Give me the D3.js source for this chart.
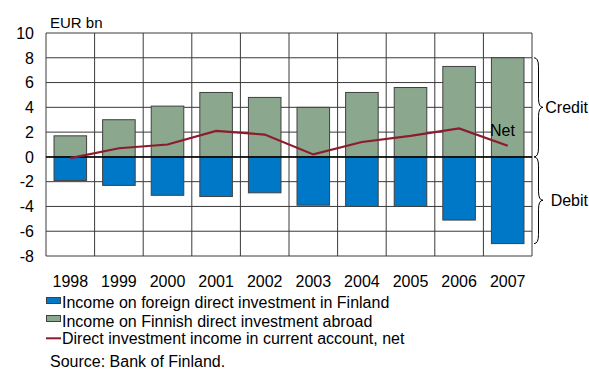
<!DOCTYPE html>
<html>
<head>
<meta charset="utf-8">
<script src="https://cdn.jsdelivr.net/npm/d3@7"></script>
<style>
  html, body { margin: 0; padding: 0; background: #fff; }
  svg { display: block; font-family: "Liberation Sans", Arial, sans-serif; }
</style>
</head>
<body>
<svg id="chart" width="589" height="369"></svg>
<script>
// Direct investment income, EUR bn
const years = ["1998", "1999", "2000", "2001", "2002", "2003", "2004", "2005", "2006", "2007"];
const credit = [1.7, 3.0, 4.1, 5.2, 4.8, 4.0, 5.2, 5.6, 7.3, 8.0];       // Finnish direct investment abroad
const debit = [-1.9, -2.3, -3.1, -3.2, -2.9, -3.9, -4.0, -4.0, -5.1, -7.0]; // foreign direct investment in Finland
const net = [-0.1, 0.7, 1.0, 2.1, 1.8, 0.2, 1.2, 1.7, 2.3, 0.9];
const yTicks = [-8, -6, -4, -2, 0, 2, 4, 6, 8, 10];
const legendLabels = [
  "Income on foreign direct investment in Finland",
  "Income on Finnish direct investment abroad",
  "Direct investment income in current account, net"
];

const colors = { credit: "#8ba78d", debit: "#0078c8", net: "#8b1c2e", grid: "#3a3a3a" };
const svg = d3.select("#chart");
const plot = { left: 46, right: 532, top: 33, bottom: 256 };

const x = d3.scaleBand().domain(years).range([plot.left, plot.right]).paddingInner(0.33).paddingOuter(0.165);
const y = d3.scaleLinear().domain([-8, 10]).range([plot.bottom, plot.top]);
const step = x.step();
const xc = d => x(d) + x.bandwidth() / 2;

// grid
const g = svg.append("g");
g.selectAll("line.h").data(yTicks).join("line")
  .attr("x1", plot.left).attr("x2", plot.right)
  .attr("y1", d => y(d)).attr("y2", d => y(d))
  .attr("stroke", colors.grid).attr("stroke-width", 1);
g.selectAll("line.v").data(d3.range(years.length + 1)).join("line")
  .attr("x1", i => plot.left + i * step).attr("x2", i => plot.left + i * step)
  .attr("y1", plot.top).attr("y2", plot.bottom)
  .attr("stroke", colors.grid).attr("stroke-width", 1);

// bars
svg.append("g").selectAll("rect").data(years).join("rect")
  .attr("x", d => x(d)).attr("width", x.bandwidth())
  .attr("y", (d, i) => y(credit[i])).attr("height", (d, i) => y(0) - y(credit[i]))
  .attr("fill", colors.credit).attr("stroke", "#404040").attr("stroke-width", 1);
svg.append("g").selectAll("rect").data(years).join("rect")
  .attr("x", d => x(d)).attr("width", x.bandwidth())
  .attr("y", y(0)).attr("height", (d, i) => y(debit[i]) - y(0))
  .attr("fill", colors.debit).attr("stroke", "#404040").attr("stroke-width", 1);

// zero line
svg.append("line").attr("x1", plot.left).attr("x2", plot.right)
  .attr("y1", y(0)).attr("y2", y(0)).attr("stroke", "#000").attr("stroke-width", 1.5);

// net line
const line = d3.line().x((d, i) => xc(years[i])).y(d => y(d));
svg.append("path").datum(net).attr("d", line)
  .attr("fill", "none").attr("stroke", colors.net).attr("stroke-width", 2.2);

svg.append("text").attr("x", 490).attr("y", 136).attr("font-size", 16).attr("fill", "#000").text("Net");

// axes labels
svg.append("g").selectAll("text").data(yTicks).join("text")
  .attr("x", 34).attr("y", d => y(d)).attr("dy", "0.36em")
  .attr("text-anchor", "end").attr("font-size", 16).text(d => d);
svg.append("g").selectAll("text").data(years).join("text")
  .attr("x", d => xc(d)).attr("y", 287)
  .attr("text-anchor", "middle").attr("font-size", 16).text(d => d);
svg.append("text").attr("x", 50).attr("y", 28).attr("font-size", 15).text("EUR bn");

// braces
function brace(bx, y0, y1, w) {
  const ym = (y0 + y1) / 2, h = w / 2;
  return `M${bx},${y0} Q${bx + h},${y0} ${bx + h},${y0 + w} L${bx + h},${ym - w} Q${bx + h},${ym} ${bx + w},${ym}` +
         ` Q${bx + h},${ym} ${bx + h},${ym + w} L${bx + h},${y1 - w} Q${bx + h},${y1} ${bx},${y1}`;
}
const last = years.length - 1;
const braces = [
  { y0: y(credit[last]), y1: y(0), label: "Credit" },
  { y0: y(0), y1: y(debit[last]), label: "Debit" }
];
braces.forEach(b => {
  svg.append("path").attr("d", brace(534, b.y0, b.y1, 9))
    .attr("fill", "none").attr("stroke", "#000").attr("stroke-width", 1);
  svg.append("text").attr("x", 588).attr("y", (b.y0 + b.y1) / 2).attr("dy", "0.36em")
    .attr("text-anchor", "end").attr("font-size", 16).text(b.label);
});

// legend
const lg = svg.append("g");
const baseY = [308, 326.5, 344];
lg.append("rect").attr("x", 46.5).attr("y", 297.5).attr("width", 14).attr("height", 6)
  .attr("fill", colors.debit).attr("stroke", "#404040").attr("stroke-width", 1);
lg.append("rect").attr("x", 46.5).attr("y", 315.5).attr("width", 14).attr("height", 6)
  .attr("fill", colors.credit).attr("stroke", "#404040").attr("stroke-width", 1);
lg.append("line").attr("x1", 46).attr("x2", 61).attr("y1", 338.3).attr("y2", 338.3)
  .attr("stroke", colors.net).attr("stroke-width", 2);
lg.selectAll("text").data(legendLabels).join("text")
  .attr("x", 62).attr("y", (d, i) => baseY[i])
  .attr("font-size", 16).text(d => d);

svg.append("text").attr("x", 50).attr("y", 366.5).attr("font-size", 16).text("Source: Bank of Finland.");
</script>
</body>
</html>
